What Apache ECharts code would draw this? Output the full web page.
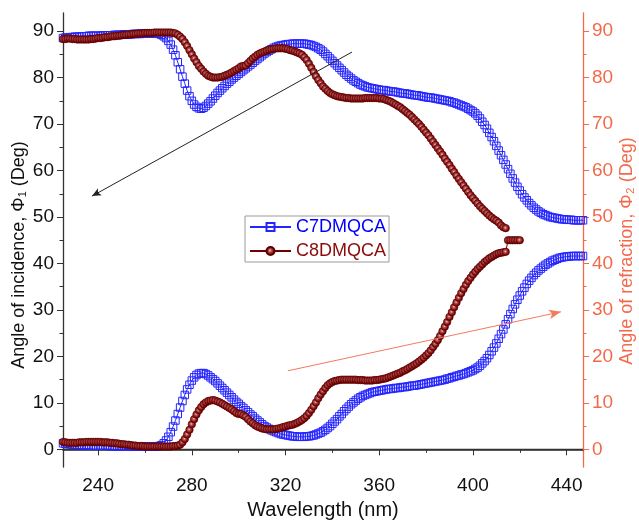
<!DOCTYPE html>
<html lang="en">
<head>
  <meta charset="utf-8">
  <title>Angle of incidence / refraction vs wavelength</title>
  <script type="text/javascript" src="https://cdn.jsdelivr.net/npm/echarts@6/dist/echarts.min.js"></script>
  <style type="text/css">
    * { margin: 0; padding: 0; }
    html, body, #chart { width: 100%; height: 100%; overflow: hidden; background: #fff; }
  </style>
</head>
<body>
  <div id="chart"></div>
  <script type="text/javascript">
    // wavelength grid, 1 nm steps starting at 225 nm
    const wlStart = 225;

    // C7DMQCA, angle of incidence (225..447 nm)
    const c7Phi1 = [
      88.5, 88.6, 88.6, 88.7, 88.7, 88.8, 88.8, 88.8, 88.9, 88.9,
      88.9, 89.0, 89.0, 89.0, 89.0, 89.0, 89.0, 89.1, 89.1, 89.1,
      89.1, 89.1, 89.2, 89.2, 89.2, 89.2, 89.3, 89.3, 89.3, 89.3,
      89.4, 89.4, 89.4, 89.4, 89.5, 89.5, 89.5, 89.5, 89.5, 89.5,
      89.5, 89.4, 89.2, 88.9, 88.5, 87.9, 87.1, 86.0, 84.8, 83.3,
      81.8, 80.2, 78.7, 77.2, 76.0, 75.0, 74.2, 73.7, 73.4, 73.3,
      73.5, 73.9, 74.4, 74.9, 75.5, 76.1, 76.7, 77.2, 77.7, 78.2,
      78.7, 79.1, 79.6, 80.0, 80.4, 80.8, 81.2, 81.6, 82.0, 82.4,
      82.8, 83.2, 83.6, 84.0, 84.4, 84.8, 85.2, 85.5, 85.8, 86.1,
      86.4, 86.6, 86.8, 86.9, 87.0, 87.1, 87.2, 87.2, 87.3, 87.3,
      87.3, 87.3, 87.3, 87.3, 87.2, 87.1, 87.0, 86.8, 86.6, 86.3,
      86.0, 85.6, 85.1, 84.6, 84.1, 83.6, 83.1, 82.6, 82.1, 81.6,
      81.1, 80.6, 80.2, 79.8, 79.4, 79.1, 78.8, 78.5, 78.3, 78.1,
      77.9, 77.8, 77.7, 77.6, 77.5, 77.4, 77.3, 77.3, 77.2, 77.1,
      77.0, 77.0, 76.9, 76.8, 76.7, 76.6, 76.6, 76.5, 76.4, 76.3,
      76.2, 76.2, 76.1, 76.0, 75.9, 75.8, 75.7, 75.7, 75.6, 75.5,
      75.4, 75.3, 75.2, 75.1, 75.0, 74.9, 74.7, 74.6, 74.4, 74.2,
      74.0, 73.8, 73.6, 73.3, 73.0, 72.7, 72.3, 71.8, 71.2, 70.5,
      69.8, 69.0, 68.1, 67.2, 66.3, 65.3, 64.3, 63.3, 62.3, 61.3,
      60.3, 59.3, 58.3, 57.4, 56.5, 55.7, 54.9, 54.2, 53.6, 53.0,
      52.5, 52.0, 51.6, 51.2, 50.9, 50.6, 50.4, 50.2, 50.0, 49.9,
      49.8, 49.7, 49.6, 49.5, 49.5, 49.4, 49.4, 49.4, 49.3, 49.3,
      49.3, 49.3, 49.3
    ];

    // C7DMQCA, angle of refraction (225..447 nm)
    const c7Phi2 = [
      1.3, 1.2, 1.1, 1.1, 1.0, 1.0, 1.0, 0.9, 0.9, 0.9,
      0.9, 0.9, 0.8, 0.8, 0.8, 0.8, 0.8, 0.8, 0.8, 0.8,
      0.7, 0.7, 0.7, 0.7, 0.7, 0.7, 0.7, 0.7, 0.7, 0.7,
      0.6, 0.6, 0.6, 0.6, 0.6, 0.6, 0.6, 0.6, 0.6, 0.6,
      0.6, 0.7, 0.9, 1.3, 1.9, 2.7, 3.7, 4.9, 6.2, 7.6,
      9.0, 10.4, 11.7, 12.9, 13.9, 14.8, 15.5, 16.0, 16.3, 16.4,
      16.4, 16.2, 15.9, 15.5, 15.1, 14.7, 14.2, 13.7, 13.2, 12.7,
      12.2, 11.7, 11.2, 10.7, 10.2, 9.8, 9.3, 8.9, 8.4, 8.0,
      7.5, 7.1, 6.6, 6.2, 5.8, 5.4, 5.0, 4.7, 4.4, 4.1,
      3.9, 3.7, 3.5, 3.3, 3.2, 3.1, 3.0, 2.9, 2.8, 2.8,
      2.7, 2.7, 2.7, 2.7, 2.8, 2.8, 2.9, 3.0, 3.2, 3.4,
      3.6, 3.9, 4.2, 4.6, 5.0, 5.5, 6.0, 6.5, 7.1, 7.6,
      8.2, 8.7, 9.2, 9.7, 10.1, 10.5, 10.9, 11.2, 11.5, 11.7,
      11.9, 12.1, 12.3, 12.4, 12.5, 12.6, 12.7, 12.8, 12.9, 13.0,
      13.0, 13.1, 13.2, 13.2, 13.3, 13.4, 13.4, 13.5, 13.6, 13.7,
      13.7, 13.8, 13.9, 14.0, 14.1, 14.2, 14.3, 14.4, 14.5, 14.6,
      14.7, 14.8, 14.9, 15.0, 15.2, 15.3, 15.5, 15.6, 15.8, 15.9,
      16.1, 16.2, 16.4, 16.6, 16.8, 17.0, 17.3, 17.6, 18.0, 18.5,
      19.0, 19.6, 20.3, 21.1, 21.9, 22.8, 23.8, 24.8, 25.8, 26.9,
      28.0, 29.1, 30.2, 31.2, 32.2, 33.1, 34.0, 34.8, 35.6, 36.3,
      36.9, 37.5, 38.0, 38.5, 38.9, 39.3, 39.7, 40.0, 40.3, 40.6,
      40.8, 41.0, 41.2, 41.3, 41.4, 41.5, 41.5, 41.6, 41.6, 41.6,
      41.6, 41.6, 41.6
    ];

    // C8DMQCA, angle of incidence (225..414 nm)
    const c8Phi1 = [
      88.3, 88.3, 88.4, 88.4, 88.3, 88.3, 88.2, 88.2, 88.2, 88.2,
      88.2, 88.2, 88.3, 88.3, 88.4, 88.5, 88.5, 88.6, 88.7, 88.7,
      88.8, 88.9, 88.9, 89.0, 89.0, 89.1, 89.2, 89.2, 89.3, 89.3,
      89.4, 89.4, 89.5, 89.5, 89.5, 89.6, 89.6, 89.6, 89.6, 89.7,
      89.7, 89.7, 89.7, 89.7, 89.7, 89.7, 89.7, 89.6, 89.5, 89.2,
      88.8, 88.3, 87.6, 86.8, 85.9, 85.0, 84.1, 83.3, 82.5, 81.9,
      81.3, 80.8, 80.4, 80.2, 80.0, 80.0, 80.0, 80.1, 80.2, 80.4,
      80.6, 80.8, 81.1, 81.4, 81.7, 82.0, 82.4, 82.5, 82.6, 83.1,
      83.6, 84.1, 84.5, 84.9, 85.2, 85.4, 85.6, 85.8, 86.0, 86.1,
      86.2, 86.3, 86.3, 86.3, 86.3, 86.2, 86.1, 85.9, 85.8, 85.6,
      85.4, 85.2, 84.9, 84.4, 83.8, 83.0, 82.1, 81.2, 80.3, 79.5,
      78.8, 78.1, 77.6, 77.1, 76.7, 76.4, 76.2, 76.0, 75.9, 75.8,
      75.7, 75.6, 75.6, 75.5, 75.5, 75.5, 75.5, 75.5, 75.5, 75.6,
      75.6, 75.6, 75.6, 75.6, 75.6, 75.5, 75.5, 75.4, 75.2, 75.0,
      74.8, 74.5, 74.2, 73.9, 73.6, 73.2, 72.8, 72.4, 72.0, 71.5,
      71.0, 70.5, 70.0, 69.4, 68.8, 68.2, 67.6, 66.9, 66.2, 65.5,
      64.8, 64.1, 63.4, 62.6, 61.9, 61.2, 60.4, 59.7, 58.9, 58.2,
      57.5, 56.8, 56.1, 55.4, 54.7, 54.1, 53.5, 52.9, 52.3, 51.8,
      51.3, 50.8, 50.3, 49.9, 49.5, 49.2, 48.8, 48.2, 47.8, 47.6
    ];

    // C8DMQCA, angle of refraction (225..420 nm)
    const c8Phi2 = [
      1.6, 1.5, 1.4, 1.4, 1.4, 1.4, 1.4, 1.5, 1.5, 1.5,
      1.6, 1.6, 1.6, 1.6, 1.6, 1.6, 1.6, 1.5, 1.5, 1.5,
      1.4, 1.4, 1.3, 1.3, 1.2, 1.1, 1.1, 1.0, 1.0, 0.9,
      0.8, 0.8, 0.7, 0.7, 0.7, 0.6, 0.6, 0.6, 0.6, 0.6,
      0.6, 0.6, 0.6, 0.6, 0.6, 0.6, 0.6, 0.7, 0.7, 0.8,
      1.0, 1.5, 2.2, 3.2, 4.2, 5.4, 6.5, 7.5, 8.4, 9.1,
      9.7, 10.1, 10.4, 10.5, 10.6, 10.5, 10.3, 10.1, 9.8, 9.5,
      9.2, 8.9, 8.6, 8.2, 7.8, 7.6, 7.6, 7.3, 7.0, 6.5,
      6.0, 5.6, 5.2, 4.9, 4.7, 4.5, 4.4, 4.3, 4.3, 4.3,
      4.3, 4.4, 4.5, 4.6, 4.8, 4.9, 5.1, 5.2, 5.3, 5.5,
      5.7, 6.0, 6.3, 6.7, 7.2, 7.8, 8.5, 9.3, 10.1, 11.0,
      11.8, 12.5, 13.2, 13.8, 14.2, 14.5, 14.7, 14.8, 14.9, 15.0,
      15.0, 15.0, 15.0, 15.0, 15.0, 15.0, 14.9, 14.9, 14.9, 14.8,
      14.8, 14.8, 14.8, 14.9, 14.9, 15.0, 15.1, 15.2, 15.3, 15.5,
      15.7, 15.9, 16.1, 16.3, 16.5, 16.8, 17.0, 17.3, 17.6, 17.9,
      18.2, 18.5, 18.9, 19.3, 19.7, 20.2, 20.7, 21.3, 22.0, 22.7,
      23.5, 24.4, 25.4, 26.4, 27.4, 28.5, 29.5, 30.6, 31.6, 32.6,
      33.6, 34.5, 35.4, 36.2, 36.9, 37.6, 38.2, 38.8, 39.3, 39.8,
      40.3, 40.7, 41.1, 41.4, 41.7, 42.0, 42.2, 42.3, 42.4, 42.5,
      45.0, 45.0, 45.0, 45.0, 45.0, 45.0
    ];

    // axis ticks
    const xMajor = [240, 280, 320, 360, 400, 440];
    const xMinor = [260, 300, 340, 380, 420];
    const yMajor = [0, 10, 20, 30, 40, 50, 60, 70, 80, 90];
    const yMinor = [5, 15, 25, 35, 45, 55, 65, 75, 85];

    // annotation arrows [x, y] in data units
    const arrowIncidence = [[348.4, 85.5], [237.4, 54.5]];
    const arrowRefraction = [[321.0, 16.9], [437.6, 29.6]];

    const toPairs = arr => arr.map((v, i) => [wlStart + i, v]);

    const font = 'Liberation Sans, Arial, sans-serif';
    const dark = '#333333';
    const orange = '#f26a4b';
    const blue = '#2424ff';
    const red = '#6e0000';
    const ball = {
      type: 'radial', x: 0.45, y: 0.45, r: 0.55,
      colorStops: [
        { offset: 0, color: '#eccaca' },
        { offset: 0.3, color: '#b35050' },
        { offset: 0.75, color: '#7a0505' },
        { offset: 1, color: '#600000' }
      ]
    };

    const X_MIN = 225, X_MAX = 447, Y_MIN = -3.8, Y_MAX = 93.9;

    function yAx(pos, color, major, name) {
      return {
        type: 'value', position: pos, min: Y_MIN, max: Y_MAX,
        splitLine: { show: false },
        axisLine: { show: major, lineStyle: { color: color, width: 1.3 } },
        axisTick: {
          show: true, inside: false, length: major ? 6 : 3.5,
          customValues: major ? yMajor : yMinor,
          lineStyle: { color: color, width: 1 }
        },
        axisLabel: {
          show: major, customValues: yMajor, margin: 9,
          color: pos === 'left' ? '#111' : color, fontSize: 19, fontFamily: font
        },
        name: major ? name : '',
        nameLocation: 'middle', nameGap: 35, nameMoveOverlap: false,
        nameTextStyle: { color: pos === 'left' ? '#111' : color, fontSize: 18, fontFamily: font,
          padding: pos === 'left' ? [0, 30, 0, 0] : [0, 22, 0, 0] }
      };
    }

    const option = {
      animation: false,
      backgroundColor: '#fff',
      grid: { left: 63, right: 56, top: 13, bottom: 55, containLabel: false, outerBoundsMode: 'none' },
      legend: {
        left: 245, top: 216, orient: 'vertical',
        itemWidth: 41, itemHeight: 10, itemGap: 6,
        padding: [2, 3, 2, 4],
        borderColor: '#9a9a9a', borderWidth: 1, backgroundColor: '#fff',
        textStyle: { fontSize: 18, fontFamily: font },
        data: [
          { name: 'C7DMQCA', textStyle: { color: '#0000ff' } },
          { name: 'C8DMQCA', textStyle: { color: '#8b0a0a' } }
        ]
      },
      xAxis: [
        {
          type: 'value', position: 'bottom', min: X_MIN, max: X_MAX,
          splitLine: { show: false },
          axisLine: { lineStyle: { color: dark, width: 1.3 } },
          axisTick: { length: 6, customValues: xMajor, lineStyle: { color: dark } },
          axisLabel: { customValues: xMajor, margin: 9, color: '#111', fontSize: 19, fontFamily: font },
          name: 'Wavelength (nm)', nameLocation: 'middle', nameGap: 33, nameMoveOverlap: false,
          nameTextStyle: { color: '#111', fontSize: 20, fontFamily: font }
        },
        {
          type: 'value', position: 'bottom', min: X_MIN, max: X_MAX,
          splitLine: { show: false }, axisLine: { show: false }, axisLabel: { show: false },
          axisTick: { length: 3.5, customValues: xMinor, lineStyle: { color: dark } }
        },
        {
          type: 'value', position: 'top', min: X_MIN, max: X_MAX,
          splitLine: { show: false }, axisLabel: { show: false }, axisTick: { show: false },
          axisLine: { lineStyle: { color: dark, width: 1.6 } }
        }
      ],
      yAxis: [
        yAx('left', dark, true, 'Angle of incidence, \u03A6\u2081 (Deg)'),
        yAx('right', orange, true, 'Angle of refraction, \u03A6\u2082 (Deg)'),
        yAx('left', dark, false, ''),
        yAx('right', orange, false, '')
      ],
      series: [
        {
          name: 'C7DMQCA', type: 'line', xAxisIndex: 0, yAxisIndex: 0,
          data: toPairs(c7Phi1), symbol: 'rect', symbolSize: 7.5, showAllSymbol: true,
          itemStyle: { color: 'rgba(255,255,255,0)', borderColor: blue, borderWidth: 1 },
          lineStyle: { color: blue, width: 1 },
          emphasis: { disabled: true }, silent: true
        },
        {
          name: 'C7DMQCA', type: 'line', xAxisIndex: 0, yAxisIndex: 1,
          data: toPairs(c7Phi2), symbol: 'rect', symbolSize: 7.5, showAllSymbol: true,
          itemStyle: { color: 'rgba(255,255,255,0)', borderColor: blue, borderWidth: 1 },
          lineStyle: { color: blue, width: 1 },
          emphasis: { disabled: true }, silent: true
        },
        {
          name: 'C8DMQCA', type: 'line', xAxisIndex: 0, yAxisIndex: 0,
          data: toPairs(c8Phi1), symbol: 'circle', symbolSize: 7.5, showAllSymbol: true,
          itemStyle: { color: ball, borderColor: '#5a0000', borderWidth: 0.6 },
          lineStyle: { color: red, width: 1 },
          emphasis: { disabled: true }, silent: true
        },
        {
          name: 'C8DMQCA', type: 'line', xAxisIndex: 0, yAxisIndex: 1,
          data: toPairs(c8Phi2), symbol: 'circle', symbolSize: 7.5, showAllSymbol: true,
          itemStyle: { color: ball, borderColor: '#5a0000', borderWidth: 0.6 },
          lineStyle: { color: red, width: 1 },
          emphasis: { disabled: true }, silent: true,
          markLine: {
            silent: true, animation: false,
            label: { show: false },
            emphasis: { disabled: true },
            data: [
              [
                { coord: arrowIncidence[0], symbol: 'none', lineStyle: { color: '#222', width: 1, type: 'solid' } },
                { coord: arrowIncidence[1], symbol: 'arrow', symbolSize: [6, 9] }
              ],
              [
                { coord: arrowRefraction[0], symbol: 'none', lineStyle: { color: '#f47a5e', width: 1, type: 'solid' } },
                { coord: arrowRefraction[1], symbol: 'arrow', symbolSize: [7, 12] }
              ]
            ]
          }
        }
      ]
    };

    const chart = echarts.init(document.getElementById('chart'));
    chart.setOption(option);
  </script>
</body>
</html>
